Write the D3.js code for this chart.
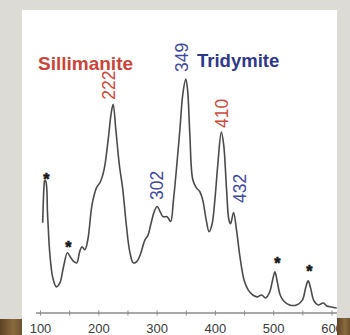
<!DOCTYPE html>
<html>
<head>
<meta charset="utf-8">
<script src="https://cdn.jsdelivr.net/npm/d3@7"></script>
<style>
  html, body { margin: 0; padding: 0; background: #dddbd6; }
  svg { display: block; }
</style>
</head>
<body>
<svg id="chart" width="350" height="335"></svg>
<script>
// Raman shift (cm-1) and intensity (a.u.)
const shift = [104.6, 107, 108, 110, 113, 117, 122, 128, 134, 140, 147, 152, 158, 163, 168, 172, 177, 182, 188, 191, 197, 203, 210, 217, 222, 225.5, 230, 236, 242, 248, 254, 260, 266, 272, 280, 285, 290, 296, 301, 306, 311, 318, 324, 329, 334, 340, 345, 350, 353, 357, 362, 368, 374, 379, 385, 390, 395, 400, 405, 411, 415, 420, 424, 427, 432, 437, 443, 450, 457, 465, 473, 480, 487, 494, 499, 503, 507, 512, 518, 528, 540, 550, 556, 560, 564, 570, 577, 586, 592, 600, 609];
const intensity = [37.8, 54, 56.1, 55.7, 41.3, 23.9, 13.9, 10, 11.7, 18.3, 24.8, 23, 20.9, 20.4, 25.2, 27.4, 26.1, 30.4, 43.5, 47.8, 53, 55.2, 60.9, 73.9, 85, 89.1, 78.3, 63, 52.2, 37, 25.2, 20.4, 20.9, 23.9, 30.4, 32.2, 37, 42.6, 44.8, 42.6, 40.4, 40.4, 38.3, 47.8, 60.9, 78.3, 93.5, 100, 95.7, 76.1, 56.5, 53, 51.3, 47.8, 39.1, 33.9, 37, 47.8, 63, 77, 71.7, 52.2, 39.1, 37.4, 42.2, 34.8, 23, 13, 8.7, 6.5, 5.7, 6.5, 5.2, 7.8, 13, 16.5, 12.2, 6.5, 3.9, 2.2, 2.2, 4.3, 10, 12.6, 9.6, 3.9, 2.2, 3, 1.7, 1.3, 0.9];

// x-axis ticks
const majorTicks = [100, 200, 300, 400, 500, 600];
const allTicks = [100, 150, 200, 250, 300, 350, 400, 450, 500, 550, 600];

// peak labels: text, group, anchor shift, anchor intensity
const peakText = ["222", "349", "410", "302", "432"];
const peakGroup = ["S", "T", "S", "T", "T"];
const peakAnchorX = [218, 344, 411.7, 301, 443];
const peakAnchorY = [91, 103, 78.8, 47.6, 46.3];

// asterisk-marked bands
const starX = [111, 148.5, 507, 562];
const starY = [58, 28.7, 21.7, 18.3];

// phase names
const phaseNames = ["Sillimanite", "Tridymite"];

const colors = { S: "#cc4a3c", T: "#3f4a9c" };
const phaseColors = ["#c9453a", "#2e3788"];

const svg = d3.select("#chart");

// background slide panel
svg.append("rect").attr("x", 0).attr("y", 0).attr("width", 350).attr("height", 335).attr("fill", "#dddbd6");
svg.append("rect").attr("x", 22).attr("y", 10).attr("width", 315).attr("height", 325).attr("fill", "#ffffff");

const x = d3.scaleLinear().domain([100, 600]).range([40, 331.5]);
const y = d3.scaleLinear().domain([0, 100]).range([310, 79]);

// axis
const axisG = svg.append("g").attr("transform", "translate(0,313)");
axisG.append("line").attr("x1", 36).attr("x2", 337).attr("stroke", "#8a8a8a").attr("stroke-width", 1.5);
const ax = d3.axisBottom(x).tickValues(allTicks).tickSize(2.5).tickSizeOuter(0)
  .tickFormat(d => majorTicks.includes(d) ? d : "");
axisG.call(ax);
axisG.select(".domain").remove();
axisG.selectAll(".tick line").attr("y1", -2.5).attr("stroke", "#8a8a8a").attr("stroke-width", 1);
axisG.selectAll(".tick text")
  .attr("y", 20).attr("dy", 0)
  .attr("fill", "#3a3a3a")
  .style("font-family", "Liberation Sans, Arial, sans-serif")
  .style("font-size", "13px");

// spectrum
const pts = shift.map((s, i) => [s, intensity[i]]);
const line = d3.line().x(d => x(d[0])).y(d => y(d[1])).curve(d3.curveCatmullRom.alpha(0.5));
svg.append("path").datum(pts).attr("d", line)
  .attr("fill", "none").attr("stroke", "#4a4a4a").attr("stroke-width", 1.6)
  .attr("stroke-linejoin", "round");

// stars
svg.selectAll("text.star").data(starX).enter().append("text")
  .attr("class", "star")
  .attr("x", (d) => x(d))
  .attr("y", (d, i) => y(starY[i]) + 9)
  .attr("text-anchor", "middle")
  .attr("fill", "#1a1a1a")
  .attr("stroke", "#1a1a1a").attr("stroke-width", 0.6)
  .style("font-family", "Liberation Sans, Arial, sans-serif")
  .style("font-weight", "bold")
  .style("font-size", "16px")
  .text("*");

// peak labels (rotated)
svg.selectAll("text.peak").data(peakText).enter().append("text")
  .attr("class", "peak")
  .attr("transform", (d, i) => `translate(${x(peakAnchorX[i])},${y(peakAnchorY[i])}) rotate(-90)`)
  .attr("dy", "0.35em")
  .attr("text-anchor", "start")
  .attr("fill", (d, i) => colors[peakGroup[i]])
  .style("font-family", "Liberation Sans, Arial, sans-serif")
  .style("font-size", "17.5px")
  .text(d => d);

// phase names
svg.append("text").attr("x", 38).attr("y", 70)
  .attr("fill", phaseColors[0])
  .style("font-family", "Liberation Sans, Arial, sans-serif")
  .style("font-weight", "bold").style("font-size", "19px")
  .text(phaseNames[0]);
svg.append("text").attr("x", 197).attr("y", 67)
  .attr("fill", phaseColors[1])
  .style("font-family", "Liberation Sans, Arial, sans-serif")
  .style("font-weight", "bold").style("font-size", "18.5px")
  .text(phaseNames[1]);

// wooden table edges of the photo
const defs = svg.append("defs");
const g = defs.append("linearGradient").attr("id", "wood").attr("x1", 0).attr("x2", 1).attr("y1", 0).attr("y2", 0);
g.append("stop").attr("offset", "0%").attr("stop-color", "#5e4326");
g.append("stop").attr("offset", "60%").attr("stop-color", "#8a6a3e");
g.append("stop").attr("offset", "100%").attr("stop-color", "#6e5230");
svg.append("rect").attr("x", 0).attr("y", 319).attr("width", 22).attr("height", 16).attr("fill", "url(#wood)");
svg.append("rect").attr("x", 337).attr("y", 0).attr("width", 13).attr("height", 319).attr("fill", "#dddbd6");
svg.append("rect").attr("x", 337).attr("y", 318).attr("width", 13).attr("height", 17).attr("fill", "url(#wood)");
</script>
</body>
</html>
